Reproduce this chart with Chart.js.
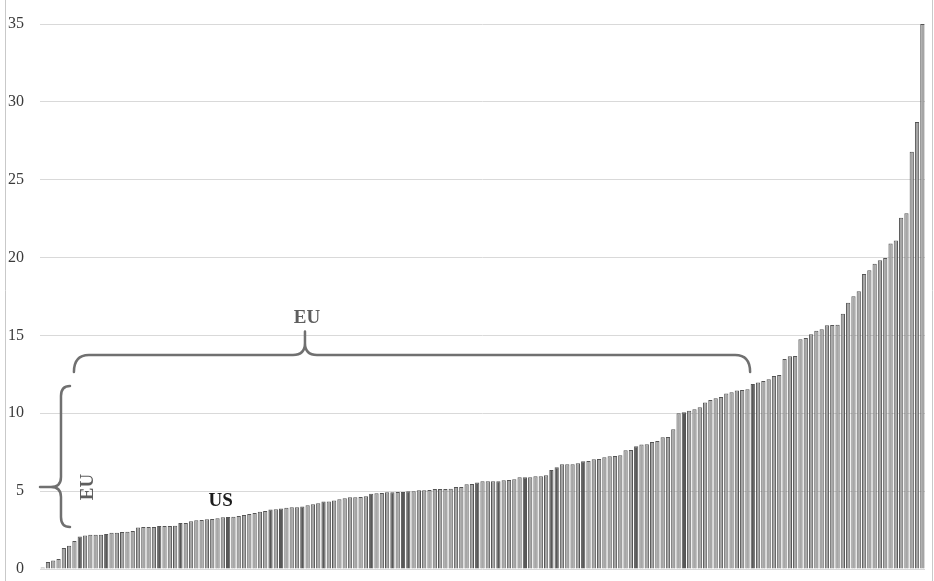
<!DOCTYPE html>
<html>
<head>
<meta charset="utf-8">
<script src="https://cdn.jsdelivr.net/npm/chart.js@4.4.1/dist/chart.umd.min.js"></script>
<style>
    html, body { margin: 0; padding: 0; background: #ffffff; }
    #wrap { width: 934px; height: 581px; }
</style>
</head>
<body>
<div id="wrap"><canvas id="bar-chart" width="934" height="581"></canvas></div>
<script>
// sorted values, one per bar
const values = [
    0.1, 0.45, 0.55, 0.65, 1.35, 1.5, 1.8, 2.08, 2.15, 2.2,
    2.2, 2.2, 2.25, 2.32, 2.33, 2.38, 2.4, 2.44, 2.66, 2.7,
    2.7, 2.7, 2.76, 2.76, 2.76, 2.77, 2.95, 2.96, 3.07, 3.13,
    3.14, 3.2, 3.21, 3.26, 3.33, 3.34, 3.35, 3.41, 3.47, 3.54,
    3.6, 3.67, 3.73, 3.82, 3.83, 3.88, 3.94, 3.96, 3.97, 4.01,
    4.1, 4.16, 4.23, 4.33, 4.34, 4.4, 4.48, 4.55, 4.61, 4.61,
    4.62, 4.68, 4.83, 4.87, 4.88, 4.93, 4.93, 4.94, 4.95, 5.0,
    5.0, 5.06, 5.06, 5.07, 5.13, 5.13, 5.14, 5.15, 5.26, 5.27,
    5.45, 5.46, 5.55, 5.63, 5.63, 5.64, 5.64, 5.7, 5.71, 5.76,
    5.89, 5.89, 5.9, 5.95, 5.96, 6.02, 6.36, 6.53, 6.72, 6.72,
    6.73, 6.79, 6.92, 6.93, 7.05, 7.06, 7.17, 7.24, 7.25, 7.3,
    7.63, 7.64, 7.88, 8.0, 8.01, 8.15, 8.22, 8.46, 8.47, 8.97,
    10.0, 10.06, 10.17, 10.26, 10.38, 10.7, 10.86, 10.96, 11.04, 11.27,
    11.35, 11.47, 11.49, 11.55, 11.88, 11.97, 12.07, 12.18, 12.39, 12.46,
    13.48, 13.67, 13.68, 14.76, 14.84, 15.07, 15.3, 15.4, 15.65, 15.67,
    15.68, 16.4, 17.1, 17.52, 17.83, 18.95, 19.19, 19.6, 19.83, 19.97,
    20.9, 21.1, 22.56, 22.85, 26.8, 28.7, 35
];

// bars drawn darker (1-based position)
const darkBars = [8, 13, 23, 27, 36, 44, 46, 50, 54, 63, 67, 69, 70, 83, 87, 92, 97, 98, 103, 113, 122, 135];

const yTicks = [0, 5, 10, 15, 20, 25, 30, 35];

const labels = values.map((v, i) => String(i + 1));

const lightFill = "#a6a6a6";
const darkFill = "#585858";
const barFills = values.map((v, i) => darkBars.includes(i + 1) ? darkFill : lightFill);

// annotation anchors in data units (bar index, value)
const hBraceEU = { from: 5.9, to: 133.5, tip: 49.5, line: 13.75, ends: 12.65, top: 15.25, label: 16.1 };
const vBraceEU = { stem: 3.46, ends: 5.16, top: 11.75, tip: 5.27, bottom: 2.7, label: 8.56 };
const usLabel = { at: 33.6, value: 4.37 };

const serif = "'Liberation Serif', 'Times New Roman', serif";

const annotations = {
    id: "annotations",
    afterDraw(chart) {
        const ctx = chart.ctx;
        const xs = chart.scales.x, ys = chart.scales.y;
        const px = (i) => xs.getPixelForValue(i);
        const py = (v) => ys.getPixelForValue(v);

        ctx.save();
        // figure frame, left and right
        ctx.strokeStyle = "#c9c9c9";
        ctx.lineWidth = 1;
        ctx.beginPath();
        ctx.moveTo(5.5, 0); ctx.lineTo(5.5, chart.height);
        ctx.moveTo(932.5, 0); ctx.lineTo(932.5, chart.height);
        ctx.stroke();

        ctx.strokeStyle = "#707070";
        ctx.lineWidth = 2.5;
        ctx.lineCap = "round";

        // horizontal brace
        let x1 = px(hBraceEU.from), x2 = px(hBraceEU.to), xm = px(hBraceEU.tip);
        let yl = py(hBraceEU.line), ye = py(hBraceEU.ends), yt = py(hBraceEU.top);
        let r = 15, rc = 12;
        ctx.beginPath();
        ctx.moveTo(x1, ye);
        ctx.quadraticCurveTo(x1, yl, x1 + r, yl);
        ctx.lineTo(xm - rc, yl);
        ctx.quadraticCurveTo(xm, yl, xm, yl - rc);
        ctx.lineTo(xm, yt);
        ctx.moveTo(xm, yl - rc);
        ctx.quadraticCurveTo(xm, yl, xm + rc, yl);
        ctx.lineTo(x2 - r, yl);
        ctx.quadraticCurveTo(x2, yl, x2, ye);
        ctx.stroke();

        // vertical brace
        let xs1 = px(vBraceEU.stem), xe = px(vBraceEU.ends), xt = chart.chartArea.left;
        let y1 = py(vBraceEU.top), ym = py(vBraceEU.tip), y2 = py(vBraceEU.bottom);
        let rv = 10;
        ctx.beginPath();
        ctx.moveTo(xe, y1);
        ctx.quadraticCurveTo(xs1, y1, xs1, y1 + rv);
        ctx.lineTo(xs1, ym - rv);
        ctx.quadraticCurveTo(xs1, ym, xs1 - rv, ym);
        ctx.lineTo(xt, ym);
        ctx.moveTo(xs1 - rv, ym);
        ctx.quadraticCurveTo(xs1, ym, xs1, ym + rv);
        ctx.lineTo(xs1, y2 - rv);
        ctx.quadraticCurveTo(xs1, y2, xe, y2);
        ctx.stroke();

        // labels
        ctx.font = "bold 19px " + serif;
        ctx.textAlign = "center";
        ctx.textBaseline = "middle";
        ctx.fillStyle = "#5e5e5e";
        ctx.fillText("EU", px(hBraceEU.tip) + 2, py(hBraceEU.label));

        ctx.save();
        ctx.translate(px(vBraceEU.label), py(vBraceEU.tip));
        ctx.rotate(-Math.PI / 2);
        ctx.fillText("EU", 0, 0);
        ctx.restore();

        ctx.fillStyle = "#1c1c1c";
        ctx.fillText("US", px(usLabel.at), py(usLabel.value));
        ctx.restore();
    },
};

let barChart = new Chart(document.getElementById("bar-chart").getContext("2d"), {
    type: "bar",
    data: {
        labels: labels,
        datasets: [{
            label: "values",
            data: values,
            backgroundColor: barFills,
            borderColor: "#555555",
            borderWidth: 1,
            barPercentage: 0.8,
            categoryPercentage: 1.0,
        }],
    },
    options: {
        responsive: false,
        animation: false,
        devicePixelRatio: 1,
        layout: {
            padding: { left: 0, right: 9, top: 24, bottom: 12 },
        },
        plugins: {
            legend: { display: false },
            tooltip: { enabled: false },
        },
        scales: {
            x: {
                display: false,
            },
            y: {
                min: 0,
                max: 35,
                afterBuildTicks: (scale) => {
                    scale.ticks = yTicks.map(v => ({ value: v }));
                },
                afterFit: (scale) => {
                    scale.width = 40;
                },
                border: { display: false },
                grid: {
                    color: "#d9d9d9",
                    lineWidth: 1,
                    drawTicks: true,
                    tickLength: 16,
                    tickColor: "rgba(0,0,0,0)",
                },
                ticks: {
                    padding: 0,
                    color: "#3a3a3a",
                    font: { family: serif, size: 16 },
                },
            },
        },
    },
    plugins: [annotations],
});
</script>
</body>
</html>
